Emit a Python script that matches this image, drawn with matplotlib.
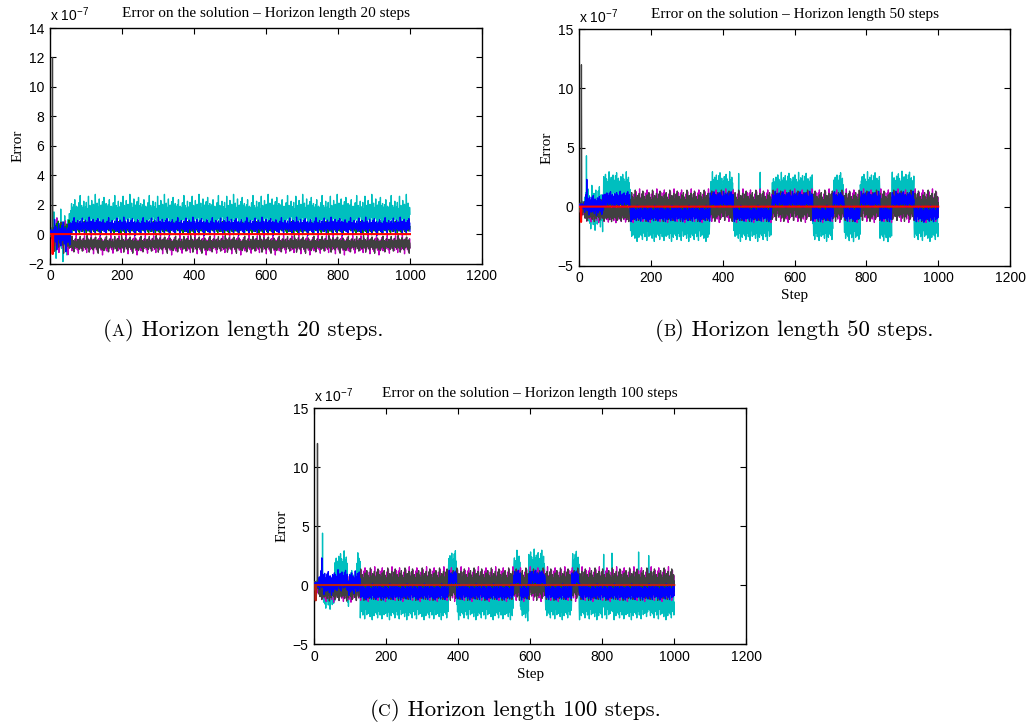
import numpy as np
import matplotlib
matplotlib.use("Agg")
import matplotlib.pyplot as plt

plt.rcParams["font.family"] = ["Liberation Sans", "DejaVu Sans"]
plt.rcParams["mathtext.fontset"] = "custom"
plt.rcParams["mathtext.rm"] = "Liberation Sans"
plt.rcParams["mathtext.it"] = "Liberation Sans"

N_STEPS = 1000
steps = np.arange(1, N_STEPS + 1)

# error values are in units of 1e-7
# fine-grain texture of the solver noise (fraction of the band at each step):
# an evenly spread one and one that stays near the middle of the band
texture_even = np.array([0.62, 0.18, 0.74, 0.35, 0.88, 0.22, 0.55, 0.97, 0.30, 0.68,
                         0.12, 0.50, 0.80, 0.27, 0.60, 0.40, 0.02, 0.72, 0.33, 0.85,
                         0.45, 0.15, 0.65, 0.38, 0.92, 0.25, 0.58, 0.78, 0.20, 0.48,
                         0.70, 0.08, 0.63, 0.42, 1.00, 0.28, 0.52, 0.75, 0.17, 0.57,
                         0.83, 0.32, 0.66, 0.05, 0.46, 0.90, 0.36, 0.60])
texture_peaked = np.array([0.52, 0.31, 0.68, 0.44, 0.79, 0.36, 0.58, 0.22, 0.63, 0.47,
                           0.95, 0.40, 0.55, 0.28, 0.71, 0.50, 0.12, 0.61, 0.38, 0.84,
                           0.46, 0.65, 0.33, 0.57, 0.74, 0.25, 0.49, 0.69, 0.41, 1.00,
                           0.53, 0.30, 0.60, 0.43, 0.77, 0.06, 0.56, 0.35, 0.66, 0.48,
                           0.88, 0.39, 0.62, 0.27, 0.54, 0.72, 0.18, 0.59, 0.45, 0.81,
                           0.34, 0.64, 0.51, 0.92, 0.37, 0.70, 0.24, 0.57, 0.42, 0.76,
                           0.00, 0.60, 0.32, 0.67, 0.47, 0.73, 0.29, 0.55, 0.86, 0.40,
                           0.63, 0.21, 0.50, 0.69, 0.36, 0.58, 0.15, 0.66, 0.44, 0.78,
                           0.33, 0.61, 0.49, 0.97, 0.38, 0.56, 0.26, 0.71, 0.45, 0.09,
                           0.64, 0.35, 0.53, 0.82, 0.42, 0.60])

# ---- horizon 20 steps ----
edges_20 = [0, 10, 56, 1000]
cyan_lo_20 = [-0.6, -2.1, 0.1]
cyan_hi_20 = [0.7, 1.7, 2.7]
blue_lo_20 = [-0.3, -1.2, -0.1]
blue_hi_20 = [0.4, 1.0, 1.15]
green_lo_20 = [-0.2, -0.5, -0.05]
green_hi_20 = [0.3, 1.0, 0.85]
gray_lo_20 = [-0.4, -1.3, -1.3]
gray_hi_20 = [0.4, 1.0, -0.1]
mag_lo_20 = [-0.4, -1.4, -1.42]
mag_hi_20 = [0.4, 1.1, -0.05]
gray_spikes_20 = [(6, 12.0)]
red_spikes_20 = [(6, -1.35), (7, -1.35)]

# ---- horizon 50 steps ----
edges_50 = [0, 14, 22, 67, 141, 364, 429, 536, 650, 707, 737, 782, 837, 870, 932, 1000]
cyan_lo_50 = [-0.5, -1.0, -2.2, 0.2, -3.0, 0.2, -3.0, 0.2, -3.0, 0.2, -3.1, 0.2, -3.1, 0.2, -3.0]
cyan_hi_50 = [0.5, 2.0, 1.8, 2.95, -0.3, 2.95, -0.3, 2.9, -0.3, 2.95, -0.3, 2.95, -0.3, 3.0, -0.3]
blue_lo_50 = [-0.3, -0.6, -0.8, -0.1, -1.3, -0.1, -1.3, -0.1, -1.3, -0.1, -1.3, -0.1, -1.3, -0.1, -1.35]
blue_hi_50 = [0.3, 1.0, 1.0, 1.3, 0.1, 1.3, 0.1, 1.3, 0.1, 1.3, 0.1, 1.3, 0.1, 1.3, 0.1]
green_lo_50 = [-0.2, -0.4, -0.5, 0.0, -0.6, 0.0, -0.6, 0.0, -0.6, 0.0, -0.6, 0.0, -0.6, 0.0, -0.6]
green_hi_50 = [0.2, 0.5, 0.6, 0.8, 0.0, 0.8, 0.0, 0.8, 0.0, 0.8, 0.0, 0.8, 0.0, 0.8, 0.0]
gray_lo_50 = [-0.8, -1.3, -1.3, -1.3, -1.3, -1.3, -1.3, -1.3, -1.3, -1.3, -1.3, -1.3, -1.3, -1.3, -1.3]
gray_hi_50 = [0.4, 0.6, 0.6, 0.3, 1.4, 1.4, 1.4, 1.4, 1.4, 1.4, 1.4, 1.4, 1.4, 1.4, 1.4]
mag_lo_50 = [-0.9, -1.4, -1.4, -1.4, -1.4, -1.4, -1.4, -1.4, -1.4, -1.4, -1.4, -1.4, -1.4, -1.4, -1.4]
mag_hi_50 = [0.5, 0.7, 0.7, 0.4, 1.5, 1.5, 1.5, 1.5, 1.5, 1.5, 1.5, 1.5, 1.5, 1.5, 1.5]
cyan_spikes_50 = [(19, 4.3), (443, 2.8), (503, 2.9)]
blue_spikes_50 = [(20, 2.3)]
gray_spikes_50 = [(5, 12.0)]
red_spikes_50 = [(4, -1.3)]

# ---- horizon 100 steps ----
edges_100 = [0, 12, 25, 57, 92, 97, 118, 127, 372, 395, 553, 572, 595, 641, 715, 735, 1000]
cyan_lo_100 = [-0.4, -1.0, -2.2, -0.2, -3.1, -1.0, -0.3, -3.0, 0.0, -3.0, 0.0, -3.1, 0.0, -3.0, 0.0, -3.0]
cyan_hi_100 = [0.4, 1.0, 0.8, 2.9, 0.5, 1.3, 3.0, -0.3, 3.0, -0.3, 2.95, -0.3, 3.05, -0.3, 2.95, -0.3]
blue_lo_100 = [-0.3, -0.5, -0.9, -0.6, -0.9, -0.9, -0.6, -1.3, -0.1, -1.3, -0.1, -1.3, -0.1, -1.3, -0.1, -1.3]
blue_hi_100 = [0.3, 1.2, 1.2, 1.3, 0.8, 1.2, 1.3, 0.1, 1.3, 0.1, 1.3, 0.1, 1.3, 0.1, 1.3, 0.1]
green_lo_100 = [-0.2, -0.3, -0.4, -0.2, -0.4, -0.4, -0.2, -0.6, 0.0, -0.6, 0.0, -0.6, 0.0, -0.6, 0.0, -0.6]
green_hi_100 = [0.2, 0.4, 0.5, 0.6, 0.3, 0.5, 0.6, 0.0, 0.8, 0.0, 0.8, 0.0, 0.8, 0.0, 0.8, 0.0]
gray_lo_100 = [-0.8, -1.3, -1.4, -1.4, -1.4, -1.4, -1.4, -1.35, -1.35, -1.35, -1.35, -1.35, -1.35, -1.35, -1.35, -1.35]
gray_hi_100 = [0.4, 0.6, 0.7, 0.7, 0.7, 0.7, 0.7, 1.45, 1.45, 1.45, 1.45, 1.45, 1.45, 1.45, 1.45, 1.45]
mag_lo_100 = [-0.9, -1.4, -1.5, -1.5, -1.5, -1.5, -1.5, -1.45, -1.45, -1.45, -1.45, -1.45, -1.45, -1.45, -1.45, -1.45]
mag_hi_100 = [0.5, 0.7, 0.8, 0.8, 0.8, 0.8, 0.8, 1.55, 1.55, 1.55, 1.55, 1.55, 1.55, 1.55, 1.55, 1.55]
cyan_spikes_100 = [(22, 4.4), (803, 2.6), (826, 2.7), (900, 2.8), (928, 2.5)]
blue_spikes_100 = [(20, 2.3)]
gray_spikes_100 = [(8, 12.0)]
red_spikes_100 = [(3, -1.3)]

titles = ["Error on the solution \u2013 Horizon length 20 steps",
          "Error on the solution \u2013 Horizon length 50 steps",
          "Error on the solution \u2013 Horizon length 100 steps"]
captions = [("A", ") Horizon length 20 steps."),
            ("B", ") Horizon length 50 steps."),
            ("C", ") Horizon length 100 steps.")]

C_BLUE = (0, 0, 1)
C_GREEN = (0, 0.5, 0)
C_CYAN = (0, 0.75, 0.75)
C_MAG = (0.75, 0, 0.75)
C_GRAY = (0.25, 0.25, 0.25)


def band_series(edges, lo, hi, spikes, tex, phase):
    y = np.empty(N_STEPS)
    for k in range(len(lo)):
        a, b = edges[k], edges[k + 1]
        f = tex[(np.arange(a, b) + phase) % len(tex)]
        y[a:b] = lo[k] + (hi[k] - lo[k]) * f
    for s, v in spikes:
        y[s] = v
    return y


def zero_series(spikes):
    y = np.zeros(N_STEPS)
    for s, v in spikes:
        y[s] = v
    return y


panels = [
    dict(edges=edges_20, tex=texture_peaked,
         cyan=(cyan_lo_20, cyan_hi_20, []), blue=(blue_lo_20, blue_hi_20, []),
         green=(green_lo_20, green_hi_20, []), gray=(gray_lo_20, gray_hi_20, gray_spikes_20),
         mag=(mag_lo_20, mag_hi_20, []), red=red_spikes_20),
    dict(edges=edges_50, tex=texture_even,
         cyan=(cyan_lo_50, cyan_hi_50, cyan_spikes_50), blue=(blue_lo_50, blue_hi_50, blue_spikes_50),
         green=(green_lo_50, green_hi_50, []), gray=(gray_lo_50, gray_hi_50, gray_spikes_50),
         mag=(mag_lo_50, mag_hi_50, []), red=red_spikes_50),
    dict(edges=edges_100, tex=texture_even,
         cyan=(cyan_lo_100, cyan_hi_100, cyan_spikes_100), blue=(blue_lo_100, blue_hi_100, blue_spikes_100),
         green=(green_lo_100, green_hi_100, []), gray=(gray_lo_100, gray_hi_100, gray_spikes_100),
         mag=(mag_lo_100, mag_hi_100, []), red=red_spikes_100),
]

fig = plt.figure(figsize=(10.30, 7.26), dpi=100)
ax_rects = [[0.0485, 0.637, 0.4194, 0.3244],
            [0.5624, 0.634, 0.4182, 0.3256],
            [0.3051, 0.1129, 0.4194, 0.3250]]
ylims = [(-2, 14), (-5, 15), (-5, 15)]
yticks = [np.arange(-2, 15, 2), np.arange(-5, 16, 5), np.arange(-5, 16, 5)]
red_colors = [(1, 0, 0), (1, 0, 0), (0.72, 0.12, 0.08)]

for i, p in enumerate(panels):
    ax = fig.add_axes(ax_rects[i])
    e = p["edges"]
    series = [("cyan", C_CYAN, 0, 1), ("mag", C_MAG, 11, 2), ("gray", C_GRAY, 23, 3),
              ("green", C_GREEN, 31, 4), ("blue", C_BLUE, 17, 5)]
    for key, col, phase, z in series:
        lo, hi, sp = p[key]
        ax.plot(steps, band_series(e, lo, hi, sp, p["tex"], phase),
                color=col, lw=0.95, zorder=z)
    ax.plot(steps, zero_series(p["red"]), color=red_colors[i], lw=1.5, zorder=6)

    ax.set_xlim(0, 1200)
    ax.set_ylim(*ylims[i])
    ax.set_xticks(np.arange(0, 1201, 200))
    ax.set_yticks(yticks[i])
    ax.tick_params(direction="in", top=True, right=True, length=4, width=0.8,
                   labelsize=10, pad=4)
    for sp in ax.spines.values():
        sp.set_linewidth(1.0)
    ax.set_title(titles[i], fontsize=11, family="Liberation Serif", pad=8)
    ax.set_ylabel("Error", fontsize=11, family="Liberation Serif", labelpad=3)
    if i > 0:
        ax.set_xlabel("Step", fontsize=11, family="Liberation Serif", labelpad=3)
    ax.text(0, 1.015, r"x 10$^{-7}$", transform=ax.transAxes, fontsize=10,
            ha="left", va="bottom")

# sub-captions with a small-capital panel letter
renderer = fig.canvas.get_renderer()
cap_pos = [(0.236, 0.537), (0.771, 0.537), (0.50, 0.014)]
for (letter, rest), (cx, cy) in zip(captions, cap_pos):
    parts = [("(", 16.5), (letter, 12.5), (rest, 16.5)]
    texts = []
    for s, size in parts:
        t = fig.text(0, cy, s, fontsize=size, family="cmr10", ha="left", va="baseline")
        texts.append(t)
    widths = [t.get_window_extent(renderer).width / fig.bbox.width for t in texts]
    x = cx - sum(widths) / 2
    for t, w in zip(texts, widths):
        t.set_x(x)
        x += w

fig.savefig("out.png", dpi=100)
